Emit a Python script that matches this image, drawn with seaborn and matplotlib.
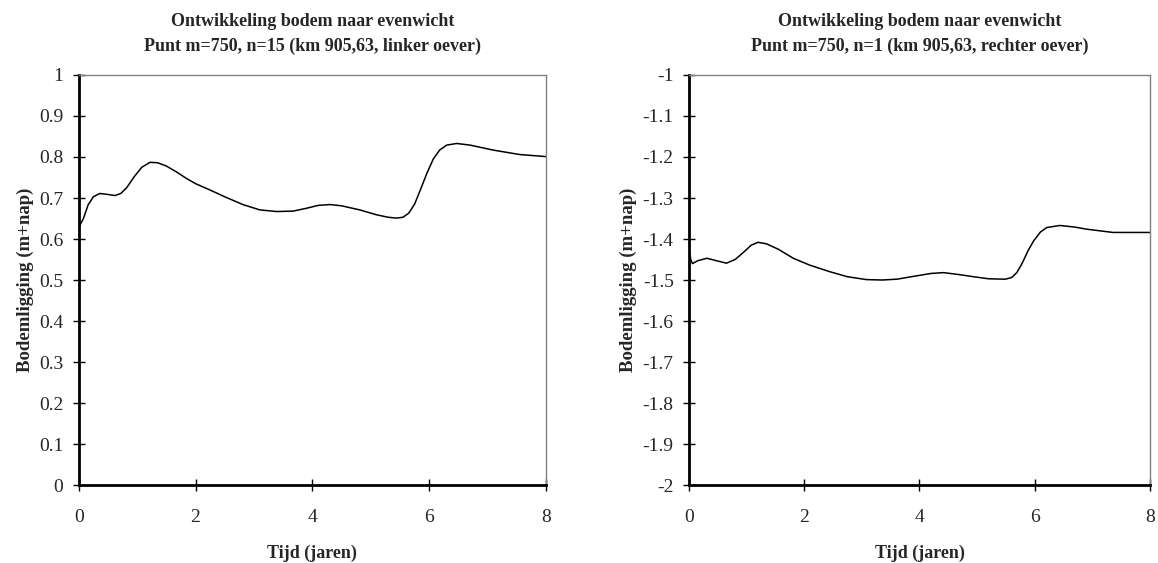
import matplotlib
matplotlib.use("Agg")
import matplotlib.pyplot as plt
import seaborn as sns
import pandas as pd

# Left panel: m=750, n=15 (linker oever)
t_left = [0.0, 0.08, 0.16, 0.25, 0.36, 0.48, 0.62, 0.72, 0.82, 0.95, 1.08, 1.22, 1.35, 1.5, 1.68,
          1.84, 2.0, 2.24, 2.5, 2.81, 3.1, 3.39, 3.67, 3.9, 4.1, 4.30, 4.5, 4.81, 5.1, 5.3, 5.44,
          5.55, 5.65, 5.75, 5.85, 5.96, 6.07, 6.18, 6.3, 6.47, 6.7, 7.09, 7.55, 8.0]
z_left = [0.628, 0.650, 0.683, 0.703, 0.711, 0.709, 0.706, 0.711, 0.725, 0.752, 0.775, 0.787,
          0.786, 0.778, 0.763, 0.748, 0.735, 0.720, 0.703, 0.684, 0.671, 0.667, 0.668, 0.675,
          0.682, 0.684, 0.681, 0.671, 0.659, 0.653, 0.651, 0.653, 0.663, 0.685, 0.720, 0.760,
          0.795, 0.817, 0.829, 0.833, 0.829, 0.817, 0.806, 0.801]

# Right panel: m=750, n=1 (rechter oever)
t_right = [0.0, 0.03, 0.06, 0.15, 0.31, 0.45, 0.65, 0.8, 0.95, 1.08, 1.20, 1.35, 1.55, 1.81, 2.1,
           2.45, 2.75, 3.08, 3.35, 3.61, 3.9, 4.2, 4.42, 4.7, 4.94, 5.2, 5.49, 5.6, 5.69, 5.78,
           5.88, 5.98, 6.1, 6.21, 6.44, 6.7, 6.90, 7.36, 8.0]
z_right = [-1.423, -1.450, -1.460, -1.453, -1.447, -1.452, -1.459, -1.450, -1.432, -1.415, -1.408,
           -1.412, -1.425, -1.447, -1.464, -1.480, -1.492, -1.499, -1.500, -1.498, -1.491, -1.484,
           -1.482, -1.487, -1.492, -1.497, -1.498, -1.494, -1.482, -1.460, -1.430, -1.405, -1.383,
           -1.372, -1.367, -1.371, -1.376, -1.384, -1.384]

titles = ["Ontwikkeling bodem naar evenwicht\nPunt m=750, n=15 (km 905,63, linker oever)",
          "Ontwikkeling bodem naar evenwicht\nPunt m=750, n=1 (km 905,63, rechter oever)"]
x_label = "Tijd (jaren)"
y_label = "Bodemligging (m+nap)"
x_ticks = [0, 2, 4, 6, 8]
y_ticks_left = [0, 0.1, 0.2, 0.3, 0.4, 0.5, 0.6, 0.7, 0.8, 0.9, 1]
y_ticks_right = [-2, -1.9, -1.8, -1.7, -1.6, -1.5, -1.4, -1.3, -1.2, -1.1, -1]

sns.set_theme(style="white")
plt.rcParams['font.family'] = ['Liberation Serif', 'DejaVu Serif']

fig = plt.figure(figsize=(11.58, 5.63), dpi=100)
ax1 = fig.add_axes([0.068, 0.1385, 0.4035, 0.7283])
ax2 = fig.add_axes([0.595, 0.1385, 0.398, 0.7283])

panels = [
    (ax1, t_left, z_left, y_ticks_left, (0, 1)),
    (ax2, t_right, z_right, y_ticks_right, (-2, -1)),
]

def fmt(v):
    s = ("%.1f" % v)
    if s.endswith(".0"):
        s = s[:-2]
    return s

for i, (ax, t, z, yt, ylim) in enumerate(panels):
    df = pd.DataFrame({"t": t, "z": z})
    sns.lineplot(data=df, x="t", y="z", ax=ax, color="black", linewidth=1.1, sort=False)
    ax.set_xlim(0, 8)
    ax.set_ylim(*ylim)
    ax.set_xticks(x_ticks)
    ax.set_xticklabels([str(v) for v in x_ticks], fontsize=14)
    ax.set_yticks(yt)
    ax.set_yticklabels([fmt(v) for v in yt], fontsize=14)
    ax.tick_params(axis="both", direction="inout", length=8, width=1, color="black",
                   bottom=True, left=True)
    ax.tick_params(axis="y", pad=7)
    ax.tick_params(axis="x", pad=13)
    ax.set_xlabel(x_label, fontsize=13, fontweight="bold", labelpad=14)
    ax.set_ylabel(y_label, fontsize=13.5, fontweight="bold", labelpad=4)
    ax.set_title(titles[i], fontsize=13, fontweight="bold", pad=17, linespacing=1.6)
    for side in ["left", "bottom"]:
        ax.spines[side].set_color("black")
        ax.spines[side].set_linewidth(2)
    for side in ["top", "right"]:
        ax.spines[side].set_color("#808080")
        ax.spines[side].set_linewidth(1)
    ax.grid(False)

fig.savefig("out.png", dpi=100)
